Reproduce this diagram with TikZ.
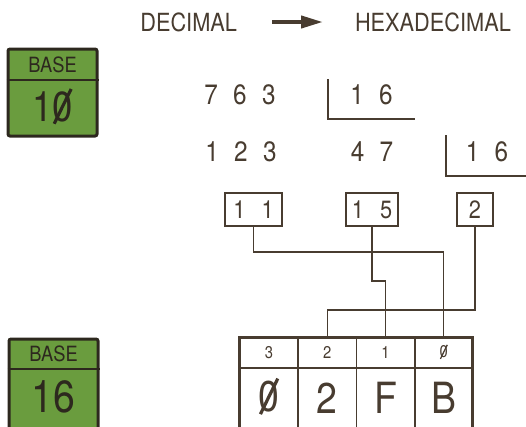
\documentclass[tikz,border=0pt]{standalone}
\usepackage{fontspec}
\setsansfont{TeX Gyre Heros}[FakeStretch=0.87]
\usetikzlibrary{arrows.meta, positioning}

\definecolor{ink}{RGB}{72,60,48}
\definecolor{basegreen}{RGB}{106,156,62}
\definecolor{baseedge}{RGB}{45,40,30}

% zero with a stroke through it
\newcommand{\slz}{{\ooalign{0\cr\hidewidth\raisebox{.32em}{\rotatebox[origin=c]{64}{\rule{.92em}{.075em}}}\hidewidth\cr}}}
\newcommand{\dgap}{\hspace{.55em}}

\tikzset{
  fs/.style={font=\sffamily\fontsize{#1}{#1}\selectfont},
  txt/.style={inner sep=0pt, outer sep=0pt, text=ink},
  basebox/.style={draw=baseedge, line width=3pt, fill=basegreen, rounded corners=2pt,
    minimum width=89pt, inner sep=0pt},
  basetxt/.style={inner sep=0pt, text=baseedge},
  remainder/.style={draw=ink, line width=2pt, minimum height=33pt, inner sep=0pt,
    text=ink, fs=25},
  idxcell/.style={draw=ink, line width=1.8pt, minimum width=58.25pt, minimum height=31pt,
    inner sep=0pt, outer sep=0pt, text=ink, fs=17},
  valcell/.style={idxcell, minimum height=60pt, fs=43},
  bracket/.style={draw=ink, line width=1.5pt},
  link/.style={draw=ink, line width=1.2pt},
}

\begin{document}
\begin{tikzpicture}[x=1pt, y=-1pt]
  \useasboundingbox (0,0) rectangle (526,426);

  % heading
  \node[txt, fs=25, anchor=east] (dec) at (237,22) {DECIMAL};
  \node[txt, fs=25, anchor=west] (hex) at (355,22) {HEXADECIMAL};
  \draw[ink, line width=4pt, shorten <=35pt, shorten >=32pt,
    -{Triangle[length=22pt, width=12pt]}] (dec.east) -- (hex.west);

  % base badges
  \node[basebox, minimum height=87pt] (b10) at (52.5,92.5) {};
  \draw[baseedge, line width=2.5pt] (b10.west |- 0,80) -- (b10.east |- 0,80);
  \node[basetxt, fs=21] (b10name) at (52.5,65) {BASE};
  \node[basetxt, fs=42] (b10val) at (52.5,108) {1\slz};

  \node[basebox, minimum height=92pt] (b16) at (53.5,385) {};
  \draw[baseedge, line width=2.5pt] (b16.west |- 0,369) -- (b16.east |- 0,369);
  \node[basetxt, fs=21] (b16name) at (53.5,354) {BASE};
  \node[basetxt, fs=45] (b16val) at (53.5,396.5) {16};

  % repeated division by 16
  \node[txt, fs=28] (n763) at (240,95) {7\dgap 6\dgap 3};
  \node[txt, fs=28] (d16a) at (371.5,95) {1\dgap 6};
  \draw[bracket] (328,79) -- (328,119) -- (415,119);

  \node[txt, fs=28] (n123) at (241,152) {1\dgap 2\dgap 3};
  \node[txt, fs=28] (q47) at (372,152) {4\dgap 7};
  \node[txt, fs=28] (d16b) at (487,152) {1\dgap 6};
  \draw[bracket] (446,135) -- (446,176) -- (526,176);

  % remainders
  \node[remainder, minimum width=57pt] (r11) at (253.5,209.5) {1\hspace{.65em}1};
  \node[remainder, minimum width=52pt] (r15) at (372,209.5) {1\hspace{.65em}5};
  \node[remainder, minimum width=36pt] (r2) at (475,209.5) {2};

  % result register
  \node[idxcell] (i3) at (269.1,352.5) {3};
  \node[idxcell, right=0pt of i3] (i2) {2};
  \node[idxcell, right=0pt of i2] (i1) {1};
  \node[idxcell, right=0pt of i1] (i0) {\slz};
  \node[valcell, below=0pt of i3] (v3) {\slz};
  \node[valcell, below=0pt of i2] (v2) {2};
  \node[valcell, below=0pt of i1] (v1) {F};
  \node[valcell, below=0pt of i0] (v0) {B};
  \draw[ink, line width=3pt] (i3.north west) rectangle (v0.south east);

  \draw[link] (r11.south) -- ++(0,25) -| (i0.north);
  \draw[link] (r15.south) -- ++(0,54) -| (i1.north);
  \draw[link] (r2.south) -- ++(0,83) -| (i2.north);
\end{tikzpicture}
\end{document}
